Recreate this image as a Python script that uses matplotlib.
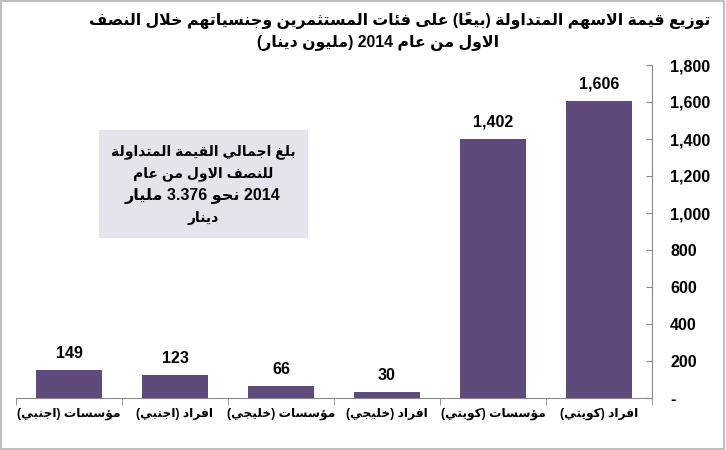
import re
import matplotlib
matplotlib.use("Agg")
import matplotlib.pyplot as plt
from matplotlib.patches import Rectangle

############################################################################
###                              DATA                                    ###
############################################################################
categories = ["مؤسسات (اجنبي)", "افراد (اجنبي)", "مؤسسات (خليجي)",
              "افراد (خليجي)", "مؤسسات (كويتي)", "افراد (كويتي)"]
values = [149, 123, 66, 30, 1402, 1606]
y_ticks = [0, 200, 400, 600, 800, 1000, 1200, 1400, 1600, 1800]
title_lines = ["توزيع قيمة الاسهم المتداولة (بيعاً) على فئات المستثمرين وجنسياتهم خلال النصف",
               "الاول من عام 2014 (مليون دينار)"]
note_lines = ["بلغ اجمالي القيمة المتداولة",
              "للنصف الاول من عام",
              "2014 نحو 3.376 مليار",
              "دينار"]
note_sizes = [10, 10, 11.5, 10]

bar_color = '#5E4B7C'
fonts = ['Liberation Sans', 'DejaVu Sans']

############################################################################
###      Arabic shaping + simple bidi (matplotlib has no text shaping)   ###
############################################################################
DUAL = {'ئ': 0xFE89, 'ب': 0xFE8F, 'ت': 0xFE95, 'ث': 0xFE99, 'ج': 0xFE9D, 'ح': 0xFEA1,
        'خ': 0xFEA5, 'س': 0xFEB1, 'ش': 0xFEB5, 'ص': 0xFEB9, 'ض': 0xFEBD, 'ط': 0xFEC1,
        'ظ': 0xFEC5, 'ع': 0xFEC9, 'غ': 0xFECD, 'ف': 0xFED1, 'ق': 0xFED5, 'ك': 0xFED9,
        'ل': 0xFEDD, 'م': 0xFEE1, 'ن': 0xFEE5, 'ه': 0xFEE9, 'ي': 0xFEF1}
RIGHT = {'آ': 0xFE81, 'أ': 0xFE83, 'ؤ': 0xFE85, 'إ': 0xFE87, 'ا': 0xFE8D, 'ة': 0xFE93,
         'د': 0xFEA9, 'ذ': 0xFEAB, 'ر': 0xFEAD, 'ز': 0xFEAF, 'و': 0xFEED, 'ى': 0xFEEF}
LAM_ALEF = {'آ': 0xFEF5, 'أ': 0xFEF7, 'إ': 0xFEF9, 'ا': 0xFEFB}
MIRROR = {'(': ')', ')': '('}


def shape(text):
    clusters = []
    for ch in text:
        if '\u064B' <= ch <= '\u0652' and clusters:
            clusters[-1][1] += ch
        else:
            clusters.append([ch, ''])
    merged = []
    i = 0
    while i < len(clusters):
        b, m = clusters[i]
        if b == 'ل' and i + 1 < len(clusters) and clusters[i + 1][0] in LAM_ALEF:
            merged.append(['LA' + clusters[i + 1][0], m + clusters[i + 1][1]])
            i += 2
        else:
            merged.append([b, m])
            i += 1
    out = []
    for i, (b, m) in enumerate(merged):
        p = i > 0 and merged[i - 1][0] in DUAL
        n = i + 1 < len(merged) and (merged[i + 1][0] in DUAL or merged[i + 1][0] in RIGHT
                                     or merged[i + 1][0].startswith('LA'))
        if b.startswith('LA'):
            g = chr(LAM_ALEF[b[2]] + (1 if p else 0))
        elif b in DUAL:
            g = chr(DUAL[b] + (3 if p and n else 1 if p else 2 if n else 0))
        elif b in RIGHT:
            g = chr(RIGHT[b] + (1 if p else 0))
        else:
            g = MIRROR.get(b, b)
        out.append(g + m)
    return out


def rtl(text):
    parts = re.split(r'([0-9]+(?:[.,][0-9]+)*)', text)
    tokens = []
    for k, part in enumerate(parts):
        if k % 2 == 1:
            tokens.append(part)
        elif part:
            tokens.append(''.join(shape(part)[::-1]))
    return ''.join(tokens[::-1])


############################################################################
###                              FIGURE                                  ###
############################################################################
plt.rcParams['font.family'] = fonts
plt.rcParams['font.weight'] = 'bold'

fig = plt.figure(figsize=(7.26, 4.5), dpi=100)
ax = fig.add_axes([16 / 726, 52 / 450, 636 / 726, 333 / 450])

x = list(range(len(categories)))
bars = ax.bar(x, values, width=0.62, color=bar_color, zorder=3)
for xi, v in zip(x, values):
    ax.text(xi, v + 50, f"{v:,}", ha='center', va='bottom', fontsize=11.5,
            fontweight='bold', color='black')

ax.set_xlim(-0.5, len(categories) - 0.5)
ax.set_ylim(0, 1800)

ax.set_xticks(x)
ax.set_xticklabels([rtl(c) for c in categories], fontsize=8.8, fontweight='bold')
ax.set_xticks([i - 0.5 for i in range(len(categories) + 1)], minor=True)
ax.tick_params(axis='x', which='major', length=0, pad=7)
ax.tick_params(axis='x', which='minor', length=5, color='#888888', direction='out')

ax.yaxis.tick_right()
ax.set_yticks(y_ticks)
ax.set_yticklabels(['-' if v == 0 else f"{v:,}" for v in y_ticks], fontsize=11.5,
                   fontweight='bold')
ax.tick_params(axis='y', length=4, color='#888888', direction='in', pad=13)

for s in ['top', 'left']:
    ax.spines[s].set_visible(False)
for s in ['right', 'bottom']:
    ax.spines[s].set_color('#888888')

# title
fig.text(400 / 726, 1 - 20 / 450, rtl(title_lines[0]), ha='center', va='center',
         fontsize=11.3, fontweight='bold')
fig.text(378 / 726, 1 - 43 / 450, rtl(title_lines[1]), ha='center', va='center',
         fontsize=11.3, fontweight='bold')

# note box
fig.patches.append(Rectangle((99 / 726, 1 - 238 / 450), 209 / 726, 108 / 450,
                             transform=fig.transFigure, facecolor='#E5E3EC',
                             edgecolor='none', zorder=0))
for k, line in enumerate(note_lines):
    fig.text(203 / 726, 1 - (152 + 22 * k) / 450, rtl(line), ha='center', va='center',
             fontsize=note_sizes[k], fontweight='bold')

# outer frame
fig.patches.append(Rectangle((0.001, 0.002), 0.996, 0.996, transform=fig.transFigure,
                             fill=False, edgecolor='#BFBFBF', lw=1.5))

fig.savefig('out.png', dpi=100)
